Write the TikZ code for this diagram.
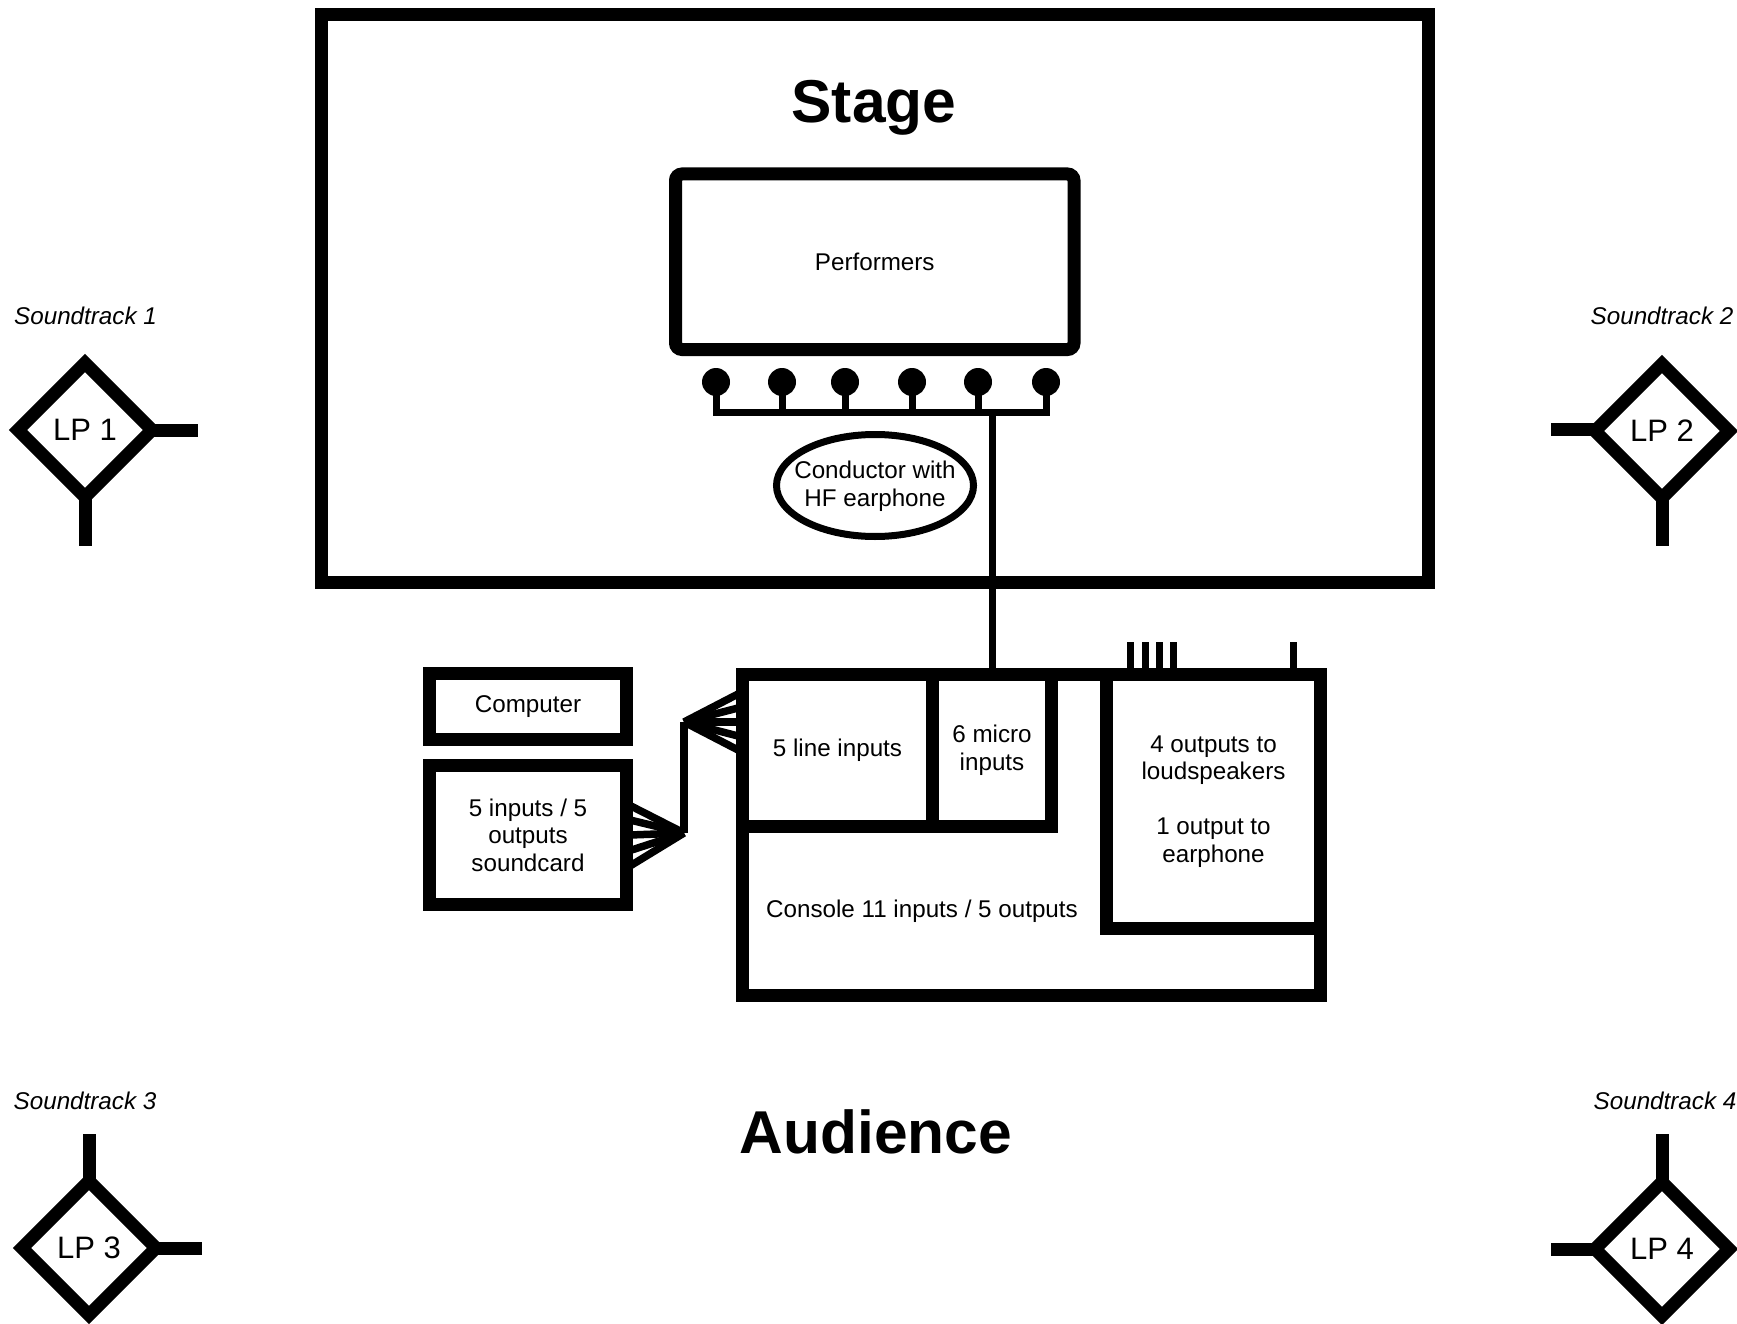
\documentclass[tikz,border=0pt]{standalone}
\usepackage{fontspec}
\setmainfont{Liberation Sans}
\usetikzlibrary{shapes.geometric}
\tikzset{
  x=1pt,y=-1pt,
  every node/.style={inner sep=0pt,outer sep=0pt,align=center,font=\fontsize{24.2}{27.5}\selectfont},
  heavy/.style={line width=13pt,line join=miter},
  light/.style={line width=7pt,line join=miter},
  fan/.style={line width=7.5pt},
  boxed/.style={draw,heavy,rectangle,minimum width=#1},
  boxh/.style={minimum height=#1},
  rbox/.style={draw,heavy,rectangle,rounded corners=6.5pt},
  lp/.style={draw,heavy,diamond,aspect=1,minimum width=134pt,minimum height=134pt,font=\fontsize{31}{34}\selectfont},
  mic/.style={circle,fill=black,minimum size=28pt},
  track/.style={anchor=base,font=\fontsize{24.2}{27.5}\selectfont\itshape},
  title/.style={anchor=base,font=\fontsize{60.5}{64}\selectfont\bfseries},
  plain/.style={anchor=base}
}
\begin{document}
\begin{tikzpicture}
\useasboundingbox (0,0) rectangle (1737,1324);
% Stage and performers
\node[boxed=1106.5pt,boxh=567pt] (stage) at (874.75,298.5) {};
\node[title] (stagetitle) at (874,123) {Stage};
\node[rbox,minimum width=398.5pt,minimum height=175.5pt] (perf) at (874.75,261.75) {Performers};
% Microphones
\node[mic] (m1) at (716,382) {};
\node[mic] (m2) at (782,382) {};
\node[mic] (m3) at (845,382) {};
\node[mic] (m4) at (912,382) {};
\node[mic] (m5) at (978,382) {};
\node[mic] (m6) at (1046,382) {};
\coordinate (busy) at (0,412.3);
\draw[light] (m1.center) -- (m1.center |- busy) -- (m6.center |- busy) -- (m6.center);
\foreach \m in {m2,m3,m4,m5}{\draw[light] (\m.center) -- (\m.center |- busy);}
\node[draw,ellipse,light,minimum width=197pt,minimum height=102pt] (cond) at (875,485.5) {};
\node (condlabel) at (875,486) {Conductor with\\HF earphone};
% Console
\node[boxed=578pt,boxh=321.5pt] (console) at (1031.5,834.75) {};
\node[boxed=190pt,boxh=152.5pt] (line) at (837.5,750.25) {5 line inputs};
\node[boxed=119pt,boxh=152.5pt] (micro) at (992,750.25) {6 micro\\inputs};
\node[boxed=214pt,boxh=254.5pt] (out) at (1213.5,801.25) {4 outputs to\\loudspeakers\\[27.5pt]1 output to\\earphone};
\node[plain] (consolelabel) at (922,917) {Console 11 inputs / 5 outputs};
% Stage to console
\coordinate (feed) at (992.5,412.3);
\draw[light] (feed) -- (feed |- console.north);
% Output ticks
\coordinate (t1) at (1130.5,642);
\coordinate (t2) at (1145,642);
\coordinate (t3) at (1159.5,642);
\coordinate (t4) at (1173.5,642);
\coordinate (t5) at (1293.5,642);
\foreach \t in {t1,t2,t3,t4,t5}{\draw[light] (\t) -- (\t |- console.north);}
% Computer and soundcard
\node[boxed=197pt,boxh=66pt] (comp) at (528,706.5) {Computer};
\node[boxed=197pt,boxh=139pt] (sound) at (528,835) {5 inputs / 5\\outputs\\soundcard};
% Fans
\coordinate (low) at (684,833);
\coordinate (up) at (684,722);
\draw[fan] (low) -- (up);
\foreach \y [count=\i] in {805.5,820,835,850.5,866}{
  \coordinate (sf\i) at (630,\y);
  \draw[fan] (low) -- (sf\i);
}
\foreach \y [count=\i] in {693,707.5,722,736.5,751}{
  \coordinate (lf\i) at (740,\y);
  \draw[fan] (up) -- (lf\i);
}
% Loudspeakers
\node[lp] (lp1) at (85,430) {LP 1};
\node[lp] (lp2) at (1662,431) {LP 2};
\node[lp] (lp3) at (89,1248) {LP 3};
\node[lp] (lp4) at (1662,1249) {LP 4};
\coordinate (a1) at (198,430);
\coordinate (b1) at (85,546);
\draw[heavy] (lp1.east) -- (a1);
\draw[heavy] (lp1.south) -- (b1);
\coordinate (a2) at (1551,429);
\coordinate (b2) at (1662,546);
\draw[heavy] (a2 -| lp2.west) -- (a2);
\draw[heavy] (lp2.south) -- (b2);
\coordinate (a3) at (202,1248);
\coordinate (b3) at (89,1134);
\draw[heavy] (lp3.east) -- (a3);
\draw[heavy] (lp3.north) -- (b3);
\coordinate (a4) at (1551,1249);
\coordinate (b4) at (1662,1134);
\draw[heavy] (lp4.west) -- (a4);
\draw[heavy] (lp4.north) -- (b4);
\node[track] (s1) at (85.5,324) {Soundtrack 1};
\node[track] (s2) at (1662,324) {Soundtrack 2};
\node[track] (s3) at (85,1109) {Soundtrack 3};
\node[track] (s4) at (1665,1109) {Soundtrack 4};
\node[title] (aud) at (876,1153) {Audience};
\end{tikzpicture}
\end{document}
